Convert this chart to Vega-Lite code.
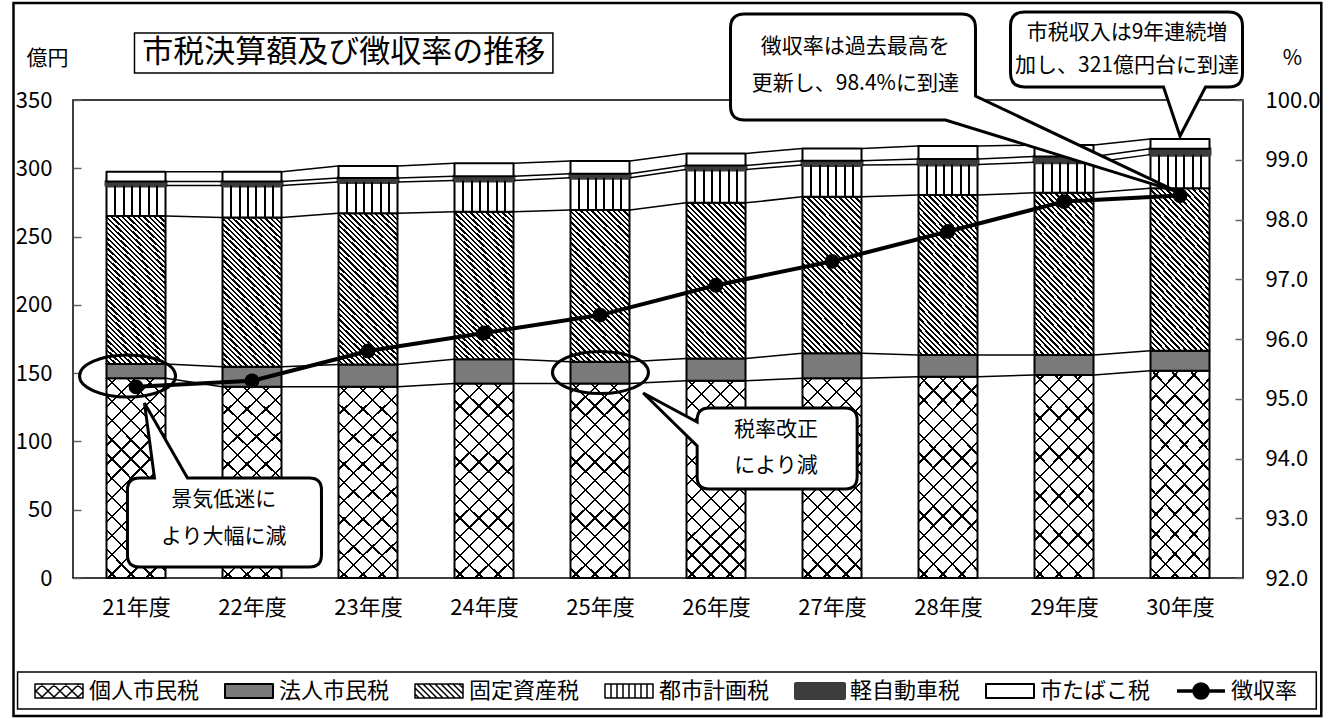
{
  "$schema": "https://vega.github.io/schema/vega-lite/v6.json",
  "width": 1170,
  "height": 478,
  "autosize": {"type": "none"},
  "padding": {"left": 73, "top": 100, "right": 92, "bottom": 141},
  "background": "#ffffff",
  "config": {
    "font": "Noto Sans CJK JP",
    "view": {"stroke": "#000", "strokeWidth": 1.5},
    "axis": {"labelFont": "Noto Sans CJK JP", "titleFont": "Noto Sans CJK JP", "labelColor": "#000", "titleColor": "#000", "titleFontWeight": "normal", "labelFontWeight": "normal", "grid": false, "domain": false, "labelFontSize": 22, "titleFontSize": 21},
    "legend": {"labelFont": "Noto Sans CJK JP", "labelFontSize": 22, "labelColor": "#000"},
    "text": {"font": "Noto Sans CJK JP", "color": "#000"}
  },
  "datasets": {
    "税目順": [
      {"税目": "個人市民税", "順": 1},
      {"税目": "法人市民税", "順": 2},
      {"税目": "固定資産税", "順": 3},
      {"税目": "都市計画税", "順": 4},
      {"税目": "軽自動車税", "順": 5},
      {"税目": "市たばこ税", "順": 6}
    ],
    "税収": [
      {"年度": 21, "税目": "個人市民税", "億円": 146.2}, {"年度": 21, "税目": "法人市民税", "億円": 10.5}, {"年度": 21, "税目": "固定資産税", "億円": 108.3}, {"年度": 21, "税目": "都市計画税", "億円": 22.4}, {"年度": 21, "税目": "軽自動車税", "億円": 3.0}, {"年度": 21, "税目": "市たばこ税", "億円": 7.0},
      {"年度": 22, "税目": "個人市民税", "億円": 140.0}, {"年度": 22, "税目": "法人市民税", "億円": 14.6}, {"年度": 22, "税目": "固定資産税", "億円": 109.4}, {"年度": 22, "税目": "都市計画税", "億円": 23.4}, {"年度": 22, "税目": "軽自動車税", "億円": 3.0}, {"年度": 22, "税目": "市たばこ税", "億円": 7.0},
      {"年度": 23, "税目": "個人市民税", "億円": 140.0}, {"年度": 23, "税目": "法人市民税", "億円": 16.4}, {"年度": 23, "税目": "固定資産税", "億円": 110.6}, {"年度": 23, "税目": "都市計画税", "億円": 22.9}, {"年度": 23, "税目": "軽自動車税", "億円": 3.0}, {"年度": 23, "税目": "市たばこ税", "億円": 8.7},
      {"年度": 24, "税目": "個人市民税", "億円": 142.5}, {"年度": 24, "税目": "法人市民税", "億円": 17.6}, {"年度": 24, "税目": "固定資産税", "億円": 108.1}, {"年度": 24, "税目": "都市計画税", "億円": 22.9}, {"年度": 24, "税目": "軽自動車税", "億円": 3.0}, {"年度": 24, "税目": "市たばこ税", "億円": 9.5},
      {"年度": 25, "税目": "個人市民税", "億円": 142.5}, {"年度": 25, "税目": "法人市民税", "億円": 15.8}, {"年度": 25, "税目": "固定資産税", "億円": 111.1}, {"年度": 25, "税目": "都市計画税", "億円": 23.6}, {"年度": 25, "税目": "軽自動車税", "億円": 3.0}, {"年度": 25, "税目": "市たばこ税", "億円": 9.3},
      {"年度": 26, "税目": "個人市民税", "億円": 144.4}, {"年度": 26, "税目": "法人市民税", "億円": 16.4}, {"年度": 26, "税目": "固定資産税", "億円": 113.9}, {"年度": 26, "税目": "都市計画税", "億円": 24.4}, {"年度": 26, "税目": "軽自動車税", "億円": 3.0}, {"年度": 26, "税目": "市たばこ税", "億円": 8.8},
      {"年度": 27, "税目": "個人市民税", "億円": 146.2}, {"年度": 27, "税目": "法人市民税", "億円": 18.3}, {"年度": 27, "税目": "固定資産税", "億円": 114.6}, {"年度": 27, "税目": "都市計画税", "億円": 23.3}, {"年度": 27, "税目": "軽自動車税", "億円": 3.2}, {"年度": 27, "税目": "市たばこ税", "億円": 8.9},
      {"年度": 28, "税目": "個人市民税", "億円": 147.4}, {"年度": 28, "税目": "法人市民税", "億円": 15.9}, {"年度": 28, "税目": "固定資産税", "億円": 117.1}, {"年度": 28, "税目": "都市計画税", "億円": 22.4}, {"年度": 28, "税目": "軽自動車税", "億円": 4.0}, {"年度": 28, "税目": "市たばこ税", "億円": 9.5},
      {"年度": 29, "税目": "個人市民税", "億円": 148.6}, {"年度": 29, "税目": "法人市民税", "億円": 14.7}, {"年度": 29, "税目": "固定資産税", "億円": 118.8}, {"年度": 29, "税目": "都市計画税", "億円": 22.3}, {"年度": 29, "税目": "軽自動車税", "億円": 4.2}, {"年度": 29, "税目": "市たばこ税", "億円": 8.4},
      {"年度": 30, "税目": "個人市民税", "億円": 151.8}, {"年度": 30, "税目": "法人市民税", "億円": 14.6}, {"年度": 30, "税目": "固定資産税", "億円": 118.9}, {"年度": 30, "税目": "都市計画税", "億円": 24.7}, {"年度": 30, "税目": "軽自動車税", "億円": 4.3}, {"年度": 30, "税目": "市たばこ税", "億円": 7.1}
    ],
    "徴収率推移": [
      {"年度": 21, "徴収率": 95.2}, {"年度": 22, "徴収率": 95.3}, {"年度": 23, "徴収率": 95.8}, {"年度": 24, "徴収率": 96.1}, {"年度": 25, "徴収率": 96.4},
      {"年度": 26, "徴収率": 96.9}, {"年度": 27, "徴収率": 97.3}, {"年度": 28, "徴収率": 97.8}, {"年度": 29, "徴収率": 98.3}, {"年度": 30, "徴収率": 98.4}
    ]
  },
  "layer": [
    {
      "layer": [
        {
          "data": {"name": "税収"},
          "transform": [
            {"lookup": "税目", "from": {"data": {"name": "税目順"}, "key": "税目", "fields": ["順"]}},
            {"stack": "億円", "groupby": ["年度"], "sort": [{"field": "順", "order": "ascending"}], "as": ["下", "上"]}
          ],
          "mark": {"type": "bar", "width": 59, "strokeJoin": "round"},
          "encoding": {
            "x": {"field": "年度", "type": "quantitative", "title": null,
              "scale": {"domain": [20.5, 30.5], "nice": false, "zero": false},
              "axis": {"values": [21, 22, 23, 24, 25, 26, 27, 28, 29, 30], "labelExpr": "datum.value + '年度'", "ticks": false, "labelPadding": 19, "labelFlush": false, "labelFontSize": 22}},
            "y": {"field": "下", "type": "quantitative", "title": "億円",
              "scale": {"domain": [0, 350], "nice": false, "zero": false},
              "axis": {"values": [0, 50, 100, 150, 200, 250, 300, 350], "tickSize": -8, "tickColor": "#666", "tickWidth": 1.5, "labelPadding": 29, "labelFlush": false, "titleAngle": 0, "titleX": -26, "titleY": -42, "titleAlign": "center", "titleBaseline": "middle"}},
            "y2": {"field": "上"},
            "fill": {"field": "税目", "type": "nominal",
              "scale": {
                "domain": ["個人市民税", "法人市民税", "固定資産税", "都市計画税", "軽自動車税", "市たばこ税", "徴収率"],
                "range": ["#ffffff", "#7a7a7a", "#ffffff", "#ffffff", "#3c3c3c", "#ffffff", "#000000"]
              },
              "legend": {
                "orient": "none", "legendX": -25, "legendY": 580, "direction": "horizontal", "columns": 7, "title": null,
                "symbolType": "M-24,-7H24V7H-24Z", "symbolSize": 4, "symbolStrokeColor": "#000", "symbolStrokeWidth": 2,
                "labelFontSize": 22, "labelOffset": 19, "columnPadding": 24, "padding": 0, "labelLimit": 200,
                "encode": {
                  "symbols": {
                    "update": {
                      "shape": {"signal": "datum.value === '徴収率' ? 'M-24,0H24M-7,0C-7,-3.9,-3.9,-7,0,-7C3.9,-7,7,-3.9,7,0C7,3.9,3.9,7,0,7C-3.9,7,-7,3.9,-7,0Z' : datum.value === '個人市民税' ? 'M-24,-7H24V7H-24ZM-24,-1L-16,7M-18,-7L-4,7M-6,-7L8,7M6,-7L20,7M18,-7L24,-1M-24,1L-16,-7M-18,7L-4,-7M-6,7L8,-7M6,7L20,-7M18,7L24,1' : datum.value === '固定資産税' ? 'M-24,-7H24V7H-24ZM-24,3L-20,7M-24,-3L-14,7M-22,-7L-8,7M-16,-7L-2,7M-10,-7L4,7M-4,-7L10,7M2,-7L16,7M8,-7L22,7M14,-7L24,3M20,-7L24,-3' : datum.value === '都市計画税' ? 'M-24,-7H24V7H-24ZM-18,-7V7M-12,-7V7M-6,-7V7M0,-7V7M6,-7V7M12,-7V7M18,-7V7' : 'M-24,-7H24V7H-24Z'"},
                      "stroke": {"signal": "datum.value === '軽自動車税' ? '#3c3c3c' : '#000'"},
                      "strokeWidth": {"signal": "datum.value === '徴収率' ? 3.5 : datum.value === '軽自動車税' ? 4 : (datum.value === '個人市民税' || datum.value === '固定資産税' || datum.value === '都市計画税') ? 1.5 : 2"},
                      "strokeJoin": {"value": "round"},
                      "opacity": {"value": 1}
                    }
                  }
                }
              }
            },
            "stroke": {"condition": {"test": "datum['税目'] === '軽自動車税'", "value": "#3c3c3c"}, "value": "#000"},
            "strokeWidth": {"condition": {"test": "datum['税目'] === '軽自動車税'", "value": 4}, "value": 2}
          }
        },
        {
          "data": {"name": "税収"},
          "transform": [
            {"lookup": "税目", "from": {"data": {"name": "税目順"}, "key": "税目", "fields": ["順"]}},
            {"stack": "億円", "groupby": ["年度"], "sort": [{"field": "順", "order": "ascending"}], "as": ["下", "上"]},
            {"filter": {"field": "税目", "equal": "個人市民税"}}
          ],
          "mark": {"type": "bar", "width": 59, "strokeWidth": 0, "fill": {"gradient": "linear", "x1": 0, "y1": 1, "x2": 0.3553, "y2": -0.1923, "stops": [
            {"offset": 0, "color": "rgba(0,0,0,0)"},
            {"offset": 0.0325, "color": "rgba(0,0,0,0)"}, {"offset": 0.0325, "color": "#000"}, {"offset": 0.0415, "color": "#000"}, {"offset": 0.0415, "color": "rgba(0,0,0,0)"},
            {"offset": 0.1064, "color": "rgba(0,0,0,0)"}, {"offset": 0.1064, "color": "#000"}, {"offset": 0.1154, "color": "#000"}, {"offset": 0.1154, "color": "rgba(0,0,0,0)"},
            {"offset": 0.1803, "color": "rgba(0,0,0,0)"}, {"offset": 0.1803, "color": "#000"}, {"offset": 0.1893, "color": "#000"}, {"offset": 0.1893, "color": "rgba(0,0,0,0)"},
            {"offset": 0.2542, "color": "rgba(0,0,0,0)"}, {"offset": 0.2542, "color": "#000"}, {"offset": 0.2632, "color": "#000"}, {"offset": 0.2632, "color": "rgba(0,0,0,0)"},
            {"offset": 0.3281, "color": "rgba(0,0,0,0)"}, {"offset": 0.3281, "color": "#000"}, {"offset": 0.3371, "color": "#000"}, {"offset": 0.3371, "color": "rgba(0,0,0,0)"},
            {"offset": 0.402, "color": "rgba(0,0,0,0)"}, {"offset": 0.402, "color": "#000"}, {"offset": 0.411, "color": "#000"}, {"offset": 0.411, "color": "rgba(0,0,0,0)"},
            {"offset": 0.4759, "color": "rgba(0,0,0,0)"}, {"offset": 0.4759, "color": "#000"}, {"offset": 0.4849, "color": "#000"}, {"offset": 0.4849, "color": "rgba(0,0,0,0)"},
            {"offset": 0.5498, "color": "rgba(0,0,0,0)"}, {"offset": 0.5498, "color": "#000"}, {"offset": 0.5588, "color": "#000"}, {"offset": 0.5588, "color": "rgba(0,0,0,0)"},
            {"offset": 0.6237, "color": "rgba(0,0,0,0)"}, {"offset": 0.6237, "color": "#000"}, {"offset": 0.6327, "color": "#000"}, {"offset": 0.6327, "color": "rgba(0,0,0,0)"},
            {"offset": 0.6976, "color": "rgba(0,0,0,0)"}, {"offset": 0.6976, "color": "#000"}, {"offset": 0.7066, "color": "#000"}, {"offset": 0.7066, "color": "rgba(0,0,0,0)"},
            {"offset": 0.7715, "color": "rgba(0,0,0,0)"}, {"offset": 0.7715, "color": "#000"}, {"offset": 0.7805, "color": "#000"}, {"offset": 0.7805, "color": "rgba(0,0,0,0)"},
            {"offset": 0.8454, "color": "rgba(0,0,0,0)"}, {"offset": 0.8454, "color": "#000"}, {"offset": 0.8544, "color": "#000"}, {"offset": 0.8544, "color": "rgba(0,0,0,0)"},
            {"offset": 0.9193, "color": "rgba(0,0,0,0)"}, {"offset": 0.9193, "color": "#000"}, {"offset": 0.9283, "color": "#000"}, {"offset": 0.9283, "color": "rgba(0,0,0,0)"},
            {"offset": 1, "color": "rgba(0,0,0,0)"}
          ]}},
          "encoding": {
            "x": {"field": "年度", "type": "quantitative"},
            "y": {"field": "下", "type": "quantitative"},
            "y2": {"field": "上"}
          }
        },
        {
          "data": {"name": "税収"},
          "transform": [
            {"lookup": "税目", "from": {"data": {"name": "税目順"}, "key": "税目", "fields": ["順"]}},
            {"stack": "億円", "groupby": ["年度"], "sort": [{"field": "順", "order": "ascending"}], "as": ["下", "上"]},
            {"filter": {"field": "税目", "equal": "個人市民税"}}
          ],
          "mark": {"type": "bar", "width": 59, "strokeWidth": 0, "fill": {"gradient": "linear", "x1": 0, "y1": 0, "x2": 0.3553, "y2": 1.1923, "stops": [
            {"offset": 0, "color": "rgba(0,0,0,0)"},
            {"offset": 0.0325, "color": "rgba(0,0,0,0)"}, {"offset": 0.0325, "color": "#000"}, {"offset": 0.0415, "color": "#000"}, {"offset": 0.0415, "color": "rgba(0,0,0,0)"},
            {"offset": 0.1064, "color": "rgba(0,0,0,0)"}, {"offset": 0.1064, "color": "#000"}, {"offset": 0.1154, "color": "#000"}, {"offset": 0.1154, "color": "rgba(0,0,0,0)"},
            {"offset": 0.1803, "color": "rgba(0,0,0,0)"}, {"offset": 0.1803, "color": "#000"}, {"offset": 0.1893, "color": "#000"}, {"offset": 0.1893, "color": "rgba(0,0,0,0)"},
            {"offset": 0.2542, "color": "rgba(0,0,0,0)"}, {"offset": 0.2542, "color": "#000"}, {"offset": 0.2632, "color": "#000"}, {"offset": 0.2632, "color": "rgba(0,0,0,0)"},
            {"offset": 0.3281, "color": "rgba(0,0,0,0)"}, {"offset": 0.3281, "color": "#000"}, {"offset": 0.3371, "color": "#000"}, {"offset": 0.3371, "color": "rgba(0,0,0,0)"},
            {"offset": 0.402, "color": "rgba(0,0,0,0)"}, {"offset": 0.402, "color": "#000"}, {"offset": 0.411, "color": "#000"}, {"offset": 0.411, "color": "rgba(0,0,0,0)"},
            {"offset": 0.4759, "color": "rgba(0,0,0,0)"}, {"offset": 0.4759, "color": "#000"}, {"offset": 0.4849, "color": "#000"}, {"offset": 0.4849, "color": "rgba(0,0,0,0)"},
            {"offset": 0.5498, "color": "rgba(0,0,0,0)"}, {"offset": 0.5498, "color": "#000"}, {"offset": 0.5588, "color": "#000"}, {"offset": 0.5588, "color": "rgba(0,0,0,0)"},
            {"offset": 0.6237, "color": "rgba(0,0,0,0)"}, {"offset": 0.6237, "color": "#000"}, {"offset": 0.6327, "color": "#000"}, {"offset": 0.6327, "color": "rgba(0,0,0,0)"},
            {"offset": 0.6976, "color": "rgba(0,0,0,0)"}, {"offset": 0.6976, "color": "#000"}, {"offset": 0.7066, "color": "#000"}, {"offset": 0.7066, "color": "rgba(0,0,0,0)"},
            {"offset": 0.7715, "color": "rgba(0,0,0,0)"}, {"offset": 0.7715, "color": "#000"}, {"offset": 0.7805, "color": "#000"}, {"offset": 0.7805, "color": "rgba(0,0,0,0)"},
            {"offset": 0.8454, "color": "rgba(0,0,0,0)"}, {"offset": 0.8454, "color": "#000"}, {"offset": 0.8544, "color": "#000"}, {"offset": 0.8544, "color": "rgba(0,0,0,0)"},
            {"offset": 0.9193, "color": "rgba(0,0,0,0)"}, {"offset": 0.9193, "color": "#000"}, {"offset": 0.9283, "color": "#000"}, {"offset": 0.9283, "color": "rgba(0,0,0,0)"},
            {"offset": 1, "color": "rgba(0,0,0,0)"}
          ]}},
          "encoding": {
            "x": {"field": "年度", "type": "quantitative"},
            "y": {"field": "下", "type": "quantitative"},
            "y2": {"field": "上"}
          }
        },
        {
          "data": {"name": "税収"},
          "transform": [
            {"lookup": "税目", "from": {"data": {"name": "税目順"}, "key": "税目", "fields": ["順"]}},
            {"stack": "億円", "groupby": ["年度"], "sort": [{"field": "順", "order": "ascending"}], "as": ["下", "上"]},
            {"filter": {"field": "税目", "equal": "固定資産税"}}
          ],
          "mark": {"type": "bar", "width": 59, "strokeWidth": 0, "fill": {"gradient": "linear", "x1": 0, "y1": 1, "x2": 0.459, "y2": -0.206, "stops": [
            {"offset": 0, "color": "rgba(0,0,0,0)"}, {"offset": 0.014, "color": "rgba(0,0,0,0)"}, {"offset": 0.014, "color": "#000"}, {"offset": 0.025, "color": "#000"},
            {"offset": 0.025, "color": "rgba(0,0,0,0)"}, {"offset": 0.039, "color": "rgba(0,0,0,0)"}, {"offset": 0.039, "color": "#000"}, {"offset": 0.05, "color": "#000"},
            {"offset": 0.05, "color": "rgba(0,0,0,0)"}, {"offset": 0.064, "color": "rgba(0,0,0,0)"}, {"offset": 0.064, "color": "#000"}, {"offset": 0.075, "color": "#000"},
            {"offset": 0.075, "color": "rgba(0,0,0,0)"}, {"offset": 0.089, "color": "rgba(0,0,0,0)"}, {"offset": 0.089, "color": "#000"}, {"offset": 0.1, "color": "#000"},
            {"offset": 0.1, "color": "rgba(0,0,0,0)"}, {"offset": 0.114, "color": "rgba(0,0,0,0)"}, {"offset": 0.114, "color": "#000"}, {"offset": 0.125, "color": "#000"},
            {"offset": 0.125, "color": "rgba(0,0,0,0)"}, {"offset": 0.139, "color": "rgba(0,0,0,0)"}, {"offset": 0.139, "color": "#000"}, {"offset": 0.15, "color": "#000"},
            {"offset": 0.15, "color": "rgba(0,0,0,0)"}, {"offset": 0.164, "color": "rgba(0,0,0,0)"}, {"offset": 0.164, "color": "#000"}, {"offset": 0.175, "color": "#000"},
            {"offset": 0.175, "color": "rgba(0,0,0,0)"}, {"offset": 0.189, "color": "rgba(0,0,0,0)"}, {"offset": 0.189, "color": "#000"}, {"offset": 0.2, "color": "#000"},
            {"offset": 0.2, "color": "rgba(0,0,0,0)"}, {"offset": 0.214, "color": "rgba(0,0,0,0)"}, {"offset": 0.214, "color": "#000"}, {"offset": 0.225, "color": "#000"},
            {"offset": 0.225, "color": "rgba(0,0,0,0)"}, {"offset": 0.239, "color": "rgba(0,0,0,0)"}, {"offset": 0.239, "color": "#000"}, {"offset": 0.25, "color": "#000"},
            {"offset": 0.25, "color": "rgba(0,0,0,0)"}, {"offset": 0.264, "color": "rgba(0,0,0,0)"}, {"offset": 0.264, "color": "#000"}, {"offset": 0.275, "color": "#000"},
            {"offset": 0.275, "color": "rgba(0,0,0,0)"}, {"offset": 0.289, "color": "rgba(0,0,0,0)"}, {"offset": 0.289, "color": "#000"}, {"offset": 0.3, "color": "#000"},
            {"offset": 0.3, "color": "rgba(0,0,0,0)"}, {"offset": 0.314, "color": "rgba(0,0,0,0)"}, {"offset": 0.314, "color": "#000"}, {"offset": 0.325, "color": "#000"},
            {"offset": 0.325, "color": "rgba(0,0,0,0)"}, {"offset": 0.339, "color": "rgba(0,0,0,0)"}, {"offset": 0.339, "color": "#000"}, {"offset": 0.35, "color": "#000"},
            {"offset": 0.35, "color": "rgba(0,0,0,0)"}, {"offset": 0.364, "color": "rgba(0,0,0,0)"}, {"offset": 0.364, "color": "#000"}, {"offset": 0.375, "color": "#000"},
            {"offset": 0.375, "color": "rgba(0,0,0,0)"}, {"offset": 0.389, "color": "rgba(0,0,0,0)"}, {"offset": 0.389, "color": "#000"}, {"offset": 0.4, "color": "#000"},
            {"offset": 0.4, "color": "rgba(0,0,0,0)"}, {"offset": 0.414, "color": "rgba(0,0,0,0)"}, {"offset": 0.414, "color": "#000"}, {"offset": 0.425, "color": "#000"},
            {"offset": 0.425, "color": "rgba(0,0,0,0)"}, {"offset": 0.439, "color": "rgba(0,0,0,0)"}, {"offset": 0.439, "color": "#000"}, {"offset": 0.45, "color": "#000"},
            {"offset": 0.45, "color": "rgba(0,0,0,0)"}, {"offset": 0.464, "color": "rgba(0,0,0,0)"}, {"offset": 0.464, "color": "#000"}, {"offset": 0.475, "color": "#000"},
            {"offset": 0.475, "color": "rgba(0,0,0,0)"}, {"offset": 0.489, "color": "rgba(0,0,0,0)"}, {"offset": 0.489, "color": "#000"}, {"offset": 0.5, "color": "#000"},
            {"offset": 0.5, "color": "rgba(0,0,0,0)"}, {"offset": 0.514, "color": "rgba(0,0,0,0)"}, {"offset": 0.514, "color": "#000"}, {"offset": 0.525, "color": "#000"},
            {"offset": 0.525, "color": "rgba(0,0,0,0)"}, {"offset": 0.539, "color": "rgba(0,0,0,0)"}, {"offset": 0.539, "color": "#000"}, {"offset": 0.55, "color": "#000"},
            {"offset": 0.55, "color": "rgba(0,0,0,0)"}, {"offset": 0.564, "color": "rgba(0,0,0,0)"}, {"offset": 0.564, "color": "#000"}, {"offset": 0.575, "color": "#000"},
            {"offset": 0.575, "color": "rgba(0,0,0,0)"}, {"offset": 0.589, "color": "rgba(0,0,0,0)"}, {"offset": 0.589, "color": "#000"}, {"offset": 0.6, "color": "#000"},
            {"offset": 0.6, "color": "rgba(0,0,0,0)"}, {"offset": 0.614, "color": "rgba(0,0,0,0)"}, {"offset": 0.614, "color": "#000"}, {"offset": 0.625, "color": "#000"},
            {"offset": 0.625, "color": "rgba(0,0,0,0)"}, {"offset": 0.639, "color": "rgba(0,0,0,0)"}, {"offset": 0.639, "color": "#000"}, {"offset": 0.65, "color": "#000"},
            {"offset": 0.65, "color": "rgba(0,0,0,0)"}, {"offset": 0.664, "color": "rgba(0,0,0,0)"}, {"offset": 0.664, "color": "#000"}, {"offset": 0.675, "color": "#000"},
            {"offset": 0.675, "color": "rgba(0,0,0,0)"}, {"offset": 0.689, "color": "rgba(0,0,0,0)"}, {"offset": 0.689, "color": "#000"}, {"offset": 0.7, "color": "#000"},
            {"offset": 0.7, "color": "rgba(0,0,0,0)"}, {"offset": 0.714, "color": "rgba(0,0,0,0)"}, {"offset": 0.714, "color": "#000"}, {"offset": 0.725, "color": "#000"},
            {"offset": 0.725, "color": "rgba(0,0,0,0)"}, {"offset": 0.739, "color": "rgba(0,0,0,0)"}, {"offset": 0.739, "color": "#000"}, {"offset": 0.75, "color": "#000"},
            {"offset": 0.75, "color": "rgba(0,0,0,0)"}, {"offset": 0.764, "color": "rgba(0,0,0,0)"}, {"offset": 0.764, "color": "#000"}, {"offset": 0.775, "color": "#000"},
            {"offset": 0.775, "color": "rgba(0,0,0,0)"}, {"offset": 0.789, "color": "rgba(0,0,0,0)"}, {"offset": 0.789, "color": "#000"}, {"offset": 0.8, "color": "#000"},
            {"offset": 0.8, "color": "rgba(0,0,0,0)"}, {"offset": 0.814, "color": "rgba(0,0,0,0)"}, {"offset": 0.814, "color": "#000"}, {"offset": 0.825, "color": "#000"},
            {"offset": 0.825, "color": "rgba(0,0,0,0)"}, {"offset": 0.839, "color": "rgba(0,0,0,0)"}, {"offset": 0.839, "color": "#000"}, {"offset": 0.85, "color": "#000"},
            {"offset": 0.85, "color": "rgba(0,0,0,0)"}, {"offset": 0.864, "color": "rgba(0,0,0,0)"}, {"offset": 0.864, "color": "#000"}, {"offset": 0.875, "color": "#000"},
            {"offset": 0.875, "color": "rgba(0,0,0,0)"}, {"offset": 0.889, "color": "rgba(0,0,0,0)"}, {"offset": 0.889, "color": "#000"}, {"offset": 0.9, "color": "#000"},
            {"offset": 0.9, "color": "rgba(0,0,0,0)"}, {"offset": 0.914, "color": "rgba(0,0,0,0)"}, {"offset": 0.914, "color": "#000"}, {"offset": 0.925, "color": "#000"},
            {"offset": 0.925, "color": "rgba(0,0,0,0)"}, {"offset": 0.939, "color": "rgba(0,0,0,0)"}, {"offset": 0.939, "color": "#000"}, {"offset": 0.95, "color": "#000"},
            {"offset": 0.95, "color": "rgba(0,0,0,0)"}, {"offset": 0.964, "color": "rgba(0,0,0,0)"}, {"offset": 0.964, "color": "#000"}, {"offset": 0.975, "color": "#000"},
            {"offset": 0.975, "color": "rgba(0,0,0,0)"}, {"offset": 0.989, "color": "rgba(0,0,0,0)"}, {"offset": 0.989, "color": "#000"}, {"offset": 1, "color": "#000"}
          ]}},
          "encoding": {
            "x": {"field": "年度", "type": "quantitative"},
            "y": {"field": "下", "type": "quantitative"},
            "y2": {"field": "上"}
          }
        },
        {
          "data": {"name": "税収"},
          "transform": [
            {"lookup": "税目", "from": {"data": {"name": "税目順"}, "key": "税目", "fields": ["順"]}},
            {"stack": "億円", "groupby": ["年度"], "sort": [{"field": "順", "order": "ascending"}], "as": ["下", "上"]},
            {"filter": {"field": "税目", "equal": "都市計画税"}}
          ],
          "mark": {"type": "bar", "width": 59, "strokeWidth": 0, "fill": {"gradient": "linear", "x1": 0, "y1": 0, "x2": 1, "y2": 0, "stops": [
            {"offset": 0, "color": "rgba(0,0,0,0)"}, {"offset": 0.13, "color": "rgba(0,0,0,0)"}, {"offset": 0.13, "color": "#000"}, {"offset": 0.164, "color": "#000"}, {"offset": 0.164, "color": "rgba(0,0,0,0)"},
            {"offset": 0.273, "color": "rgba(0,0,0,0)"}, {"offset": 0.273, "color": "#000"}, {"offset": 0.307, "color": "#000"}, {"offset": 0.307, "color": "rgba(0,0,0,0)"},
            {"offset": 0.416, "color": "rgba(0,0,0,0)"}, {"offset": 0.416, "color": "#000"}, {"offset": 0.45, "color": "#000"}, {"offset": 0.45, "color": "rgba(0,0,0,0)"},
            {"offset": 0.559, "color": "rgba(0,0,0,0)"}, {"offset": 0.559, "color": "#000"}, {"offset": 0.593, "color": "#000"}, {"offset": 0.593, "color": "rgba(0,0,0,0)"},
            {"offset": 0.702, "color": "rgba(0,0,0,0)"}, {"offset": 0.702, "color": "#000"}, {"offset": 0.736, "color": "#000"}, {"offset": 0.736, "color": "rgba(0,0,0,0)"},
            {"offset": 0.845, "color": "rgba(0,0,0,0)"}, {"offset": 0.845, "color": "#000"}, {"offset": 0.879, "color": "#000"}, {"offset": 0.879, "color": "rgba(0,0,0,0)"},
            {"offset": 1, "color": "rgba(0,0,0,0)"}
          ]}},
          "encoding": {
            "x": {"field": "年度", "type": "quantitative"},
            "y": {"field": "下", "type": "quantitative"},
            "y2": {"field": "上"}
          }
        },
        {
          "data": {"name": "税収"},
          "transform": [
            {"lookup": "税目", "from": {"data": {"name": "税目順"}, "key": "税目", "fields": ["順"]}},
            {"stack": "億円", "groupby": ["年度"], "sort": [{"field": "順", "order": "ascending"}], "as": ["下", "上"]},
            {"window": [{"op": "lead", "field": "上", "as": "次上"}, {"op": "lead", "field": "年度", "as": "次年度"}], "groupby": ["税目"], "sort": [{"field": "年度", "order": "ascending"}]},
            {"filter": {"field": "次年度", "valid": true}}
          ],
          "mark": {"type": "rule", "stroke": "#000", "strokeWidth": 1.5, "xOffset": 30, "x2Offset": -30},
          "encoding": {
            "x": {"field": "年度", "type": "quantitative"},
            "x2": {"field": "次年度"},
            "y": {"field": "上", "type": "quantitative"},
            "y2": {"field": "次上"}
          }
        },
        {
          "data": {"values": [{}]},
          "mark": {"type": "point", "shape": "M-48,0C-48,-11.6,-26.5,-21,0,-21C26.5,-21,48,-11.6,48,0C48,11.6,26.5,21,0,21C-26.5,21,-48,11.6,-48,0Z", "size": 4, "filled": false, "fill": "transparent", "stroke": "#000", "strokeWidth": 3, "opacity": 1},
          "encoding": {"x": {"datum": 20.927}, "y": {"datum": 147.91}}
        },
        {
          "data": {"values": [{}]},
          "mark": {"type": "point", "shape": "M-48,0C-48,-11.6,-26.5,-21,0,-21C26.5,-21,48,-11.6,48,0C48,11.6,26.5,21,0,21C-26.5,21,-48,11.6,-48,0Z", "size": 4, "filled": false, "fill": "transparent", "stroke": "#000", "strokeWidth": 3, "opacity": 1},
          "encoding": {"x": {"datum": 25.004}, "y": {"datum": 150.47}}
        },
        {
          "data": {"values": [{}]},
          "mark": {"type": "point", "shape": "M-5,75H10L0,0L43,75H165Q177,75,177,87V152Q177,164,165,164H-5Q-17,164,-17,152V87Q-17,75,-5,75Z", "size": 4, "filled": true, "fill": "#fff", "stroke": "#000", "strokeWidth": 3, "opacity": 1},
          "encoding": {"x": {"datum": 21.073}, "y": {"datum": 128.14}}
        },
        {
          "data": {"values": [{}]},
          "mark": {"type": "point", "shape": "M66,15H202Q214,15,214,27V84Q214,96,202,96H66Q54,96,54,84V53L0,0L54,29V27Q54,15,66,15Z", "size": 4, "filled": true, "fill": "#fff", "stroke": "#000", "strokeWidth": 3, "opacity": 1},
          "encoding": {"x": {"datum": 25.372}, "y": {"datum": 135.46}}
        },
        {
          "data": {"name": "税収"},
          "transform": [
            {"lookup": "税目", "from": {"data": {"name": "税目順"}, "key": "税目", "fields": ["順"]}},
            {"stack": "億円", "groupby": ["年度"], "sort": [{"field": "順", "order": "ascending"}], "as": ["下", "上"]},
            {"filter": "datum['年度'] === 30 && datum['税目'] === '市たばこ税'"}
          ],
          "mark": {"type": "point", "shape": "M-155.5,-127.1H48.5Q62.5,-127.1,62.5,-113.1V-66.1Q62.5,-52.1,48.5,-52.1H25.5L0,-3L-16.5,-52.1H-155.5Q-169.5,-52.1,-169.5,-66.1V-113.1Q-169.5,-127.1,-155.5,-127.1Z", "size": 4, "filled": true, "fill": "#fff", "stroke": "#000", "strokeWidth": 3, "opacity": 1},
          "encoding": {"x": {"field": "年度", "type": "quantitative"}, "y": {"field": "上", "type": "quantitative"}}
        },
        {
          "data": {"values": [{}]},
          "mark": {"type": "rect", "fill": "transparent", "stroke": "#000", "strokeWidth": 2.5},
          "encoding": {"x": {"datum": 19.944}, "x2": {"datum": 31.218}, "y": {"datum": 421.03}, "y2": {"datum": -101.05}}
        },
        {
          "data": {"values": [{}]},
          "mark": {"type": "rect", "fill": "transparent", "stroke": "#000", "strokeWidth": 1.5},
          "encoding": {"x": {"datum": 20.987}, "x2": {"datum": 24.594}, "y": {"datum": 399.06}, "y2": {"datum": 369.77}}
        },
        {
          "data": {"values": [{}]},
          "mark": {"type": "rect", "fill": "transparent", "stroke": "#000", "strokeWidth": 1.5},
          "encoding": {"x": {"datum": 19.979}, "x2": {"datum": 31.175}, "y": {"datum": -68.83}, "y2": {"datum": -95.92}}
        },
        {
          "data": {"values": [{}]},
          "mark": {"type": "text", "text": "市税決算額及び徴収率の推移", "fontSize": 31, "align": "center", "baseline": "middle"},
          "encoding": {"x": {"datum": 22.791}, "y": {"datum": 384.41}}
        },
        {
          "data": {"values": [{}]},
          "mark": {"type": "text", "text": ["景気低迷に", "より大幅に減"], "lineHeight": 37, "fontSize": 21, "align": "center", "baseline": "middle"},
          "encoding": {"x": {"datum": 21.756}, "y": {"datum": 57.11}}
        },
        {
          "data": {"values": [{}]},
          "mark": {"type": "text", "text": ["税率改正", "により減"], "lineHeight": 36, "fontSize": 21, "align": "center", "baseline": "middle"},
          "encoding": {"x": {"datum": 26.517}, "y": {"datum": 108.37}}
        },
        {
          "data": {"values": [{}]},
          "mark": {"type": "text", "text": ["市税収入は9年連続増", "加し、321億円台に到達"], "lineHeight": 33, "fontSize": 21, "align": "center", "baseline": "middle"},
          "encoding": {"x": {"datum": 29.543}, "y": {"datum": 399.06}}
        }
      ]
    },
    {
      "layer": [
        {
          "data": {"name": "徴収率推移"},
          "transform": [{"filter": "datum['年度'] === 30"}],
          "mark": {"type": "point", "shape": "M-435.5,-181.6H-218.5Q-204.5,-181.6,-204.5,-167.6V-99.6L-3,-4L-234.5,-75.6H-435.5Q-449.5,-75.6,-449.5,-89.6V-167.6Q-449.5,-181.6,-435.5,-181.6Z", "size": 4, "filled": true, "fill": "#fff", "stroke": "#000", "strokeWidth": 3, "opacity": 1},
          "encoding": {"x": {"field": "年度", "type": "quantitative"}, "y": {"field": "徴収率", "type": "quantitative"}}
        },
        {
          "data": {"values": [{}]},
          "mark": {"type": "text", "text": ["徴収率は過去最高を", "更新し、98.4%に到達"], "lineHeight": 37, "fontSize": 21, "align": "center", "baseline": "middle"},
          "encoding": {"x": {"datum": 27.201}, "y": {"datum": 100.887}}
        },
        {
          "data": {"name": "徴収率推移"},
          "mark": {"type": "line", "stroke": "#000", "strokeWidth": 4},
          "encoding": {
            "x": {"field": "年度", "type": "quantitative"},
            "y": {"field": "徴収率", "type": "quantitative", "title": "%",
              "scale": {"domain": [92, 100], "nice": false, "zero": false},
              "axis": {"orient": "right", "values": [92, 93, 94, 95, 96, 97, 98, 99, 100], "format": ".1f", "tickSize": -8, "tickColor": "#666", "tickWidth": 1.5, "labelPadding": 30, "titleAngle": 0, "titleX": 49, "titleY": -42, "titleAlign": "center", "titleBaseline": "middle"}}
          }
        },
        {
          "data": {"name": "徴収率推移"},
          "mark": {"type": "point", "shape": "circle", "size": 220, "filled": true, "fill": "#000", "stroke": "#000", "strokeWidth": 0, "opacity": 1},
          "encoding": {"x": {"field": "年度", "type": "quantitative"}, "y": {"field": "徴収率", "type": "quantitative"}}
        }
      ]
    }
  ],
  "resolve": {"scale": {"y": "independent"}}
}
